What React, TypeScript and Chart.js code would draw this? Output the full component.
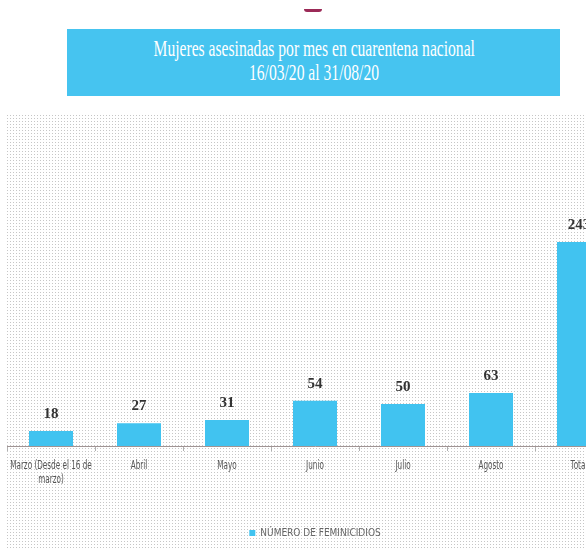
import React, { useEffect, useRef } from "react";
import { Chart, registerables } from "chart.js";

Chart.register(...registerables);

const categories: string[][] = [
  ["Marzo (Desde el 16 de", "marzo)"],
  ["Abril"],
  ["Mayo"],
  ["Junio"],
  ["Julio"],
  ["Agosto"],
  ["Total"],
];
const values: number[] = [18, 27, 31, 54, 50, 63, 243];
const seriesName = "NÚMERO DE FEMINICIDIOS";
const titleLines: string[] = [
  "Mujeres asesinadas por mes en cuarentena nacional",
  "16/03/20 al 31/08/20",
];
const yMax = 300;

export default function App() {
  const ref = useRef<HTMLCanvasElement>(null);

  useEffect(() => {
    if (!ref.current) return;
    const dot = document.createElement("canvas");
    dot.width = 3;
    dot.height = 3;
    const dctx = dot.getContext("2d")!;
    dctx.fillStyle = "#ffffff";
    dctx.fillRect(0, 0, 3, 3);
    dctx.fillStyle = "#c6c6c6";
    dctx.fillRect(1, 1, 1, 1);

    const bgPlugin = {
      id: "dots",
      beforeDraw(chart: any) {
        const ctx = chart.ctx;
        const pat = ctx.createPattern(dot, "repeat");
        ctx.save();
        ctx.fillStyle = "#ffffff";
        ctx.fillRect(0, 0, chart.width, chart.height);
        ctx.fillStyle = pat;
        ctx.fillRect(5, 0, chart.width - 5, chart.height);
        ctx.restore();
      },
    };

    const valuePlugin = {
      id: "values",
      afterDatasetsDraw(chart: any) {
        const ctx = chart.ctx;
        const meta = chart.getDatasetMeta(0);
        ctx.save();
        ctx.font = "bold 15px 'Liberation Serif'";
        ctx.fillStyle = "#333333";
        ctx.textAlign = "center";
        ctx.textBaseline = "middle";
        meta.data.forEach((bar: any, i: number) => {
          ctx.fillText(String(values[i]), bar.x, bar.y - 17);
        });
        ctx.restore();
      },
    };

    const xLabelPlugin = {
      id: "xlabels",
      afterDraw(chart: any) {
        const ctx = chart.ctx;
        const xs = chart.scales.x;
        ctx.save();
        ctx.font = "13px 'DejaVu Sans Condensed'";
        ctx.fillStyle = "#555555";
        ctx.textAlign = "center";
        ctx.textBaseline = "middle";
        categories.forEach((lines, i) => {
          const x = xs.getPixelForValue(i);
          lines.forEach((ln, j) => {
            ctx.save();
            ctx.translate(x, xs.top + 20 + j * 14);
            ctx.scale(0.62, 1);
            ctx.fillText(ln, 0, 0);
            ctx.restore();
          });
        });
        ctx.restore();
      },
    };

    const chart = new Chart(ref.current, {
      type: "bar",
      data: {
        labels: categories,
        datasets: [
          {
            label: seriesName,
            data: values,
            backgroundColor: "#41c3f0",
            barPercentage: 0.5,
            categoryPercentage: 1,
          },
        ],
      },
      options: {
        responsive: true,
        maintainAspectRatio: false,
        animation: false,
        layout: { padding: { left: 7, right: 17, top: 80, bottom: 0 } },
        scales: {
          y: { display: false, min: 0, max: yMax },
          x: {
            grid: {
              display: true,
              drawOnChartArea: false,
              drawTicks: true,
              tickLength: 5,
              color: "#b0b0b0",
            },
            border: { display: true, color: "#a09494", width: 1 },
            ticks: { display: false },
            afterFit(scale: any) {
              scale.height = 72;
            },
          },
        },
        plugins: {
          legend: {
            position: "bottom",
            labels: {
              boxWidth: 6,
              boxHeight: 6,
              padding: 10,
              color: "#666666",
              font: { family: "'DejaVu Sans Condensed'", size: 10 },
            },
          },
          tooltip: { enabled: false },
        },
      },
      plugins: [bgPlugin, valuePlugin, xLabelPlugin],
    } as any);
    return () => chart.destroy();
  }, []);

  return (
    <div
      style={{
        position: "fixed",
        left: 0,
        top: 0,
        width: 586,
        height: 548,
        overflow: "hidden",
        background: "#ffffff",
      }}
    >
      <div
        style={{
          position: "absolute",
          left: 304,
          top: 9,
          width: 18,
          height: 3,
          background: "#9b2a57",
          borderRadius: "0 0 9px 9px",
        }}
      />
      <div
        style={{
          position: "absolute",
          left: 67,
          top: 29,
          width: 493,
          height: 67,
          background: "#46c4f0",
        }}
      >
        {titleLines.map((t, i) => (
          <div
            key={i}
            style={{
              position: "absolute",
              left: 0,
              width: "100%",
              top: 7 + i * 24,
              textAlign: "center",
              whiteSpace: "nowrap",
              lineHeight: "24px",
            }}
          >
            <span
              style={{
                display: "inline-block",
                transform: "scaleX(0.65)",
                transformOrigin: "center",
                fontFamily: "'Liberation Serif'",
                fontSize: 24,
                color: "#ffffff",
              }}
            >
              {t}
            </span>
          </div>
        ))}
      </div>
      <div
        style={{
          position: "absolute",
          left: 0,
          top: 114,
          width: 640,
          height: 434,
        }}
      >
        <canvas ref={ref} />
      </div>
    </div>
  );
}
